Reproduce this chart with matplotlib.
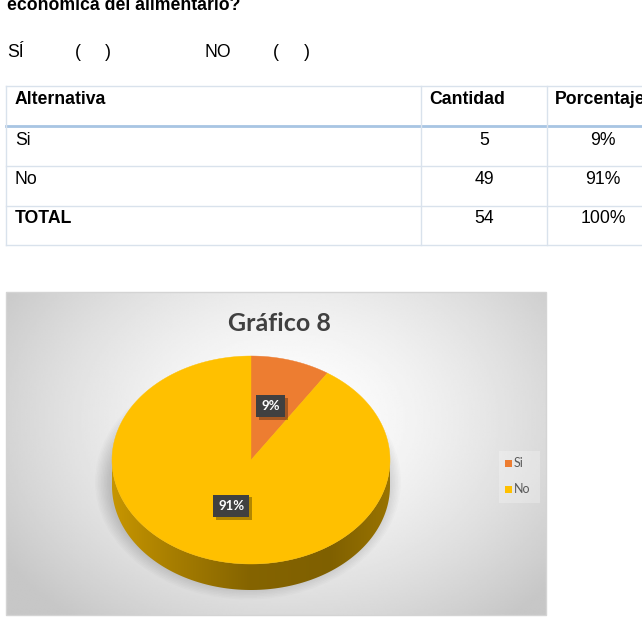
import numpy as np
import matplotlib
matplotlib.use("Agg")
import matplotlib.pyplot as plt
from matplotlib.patches import Polygon, Rectangle, Ellipse
import matplotlib.colors as mcolors
import matplotlib.patheffects as pe

# ---------------- data ----------------
question = "económica del alimentario?"
answer_line = ["SÍ", "(", ")", "NO", "(", ")"]
table_header = ["Alternativa", "Cantidad", "Porcentaje"]
table_rows = ["Si", "No", "TOTAL"]
table_counts = ["5", "49", "54"]
table_pcts = ["9%", "91%", "100%"]

chart_title = "Gráfico 8"
pie_labels = ["Si", "No"]
pie_values = [5, 49]
pie_pct_labels = ["9%", "91%"]
pie_colors = ["#ED7D31", "#FFC000"]

# ---------------- figure ----------------
W, H = 642, 619
fig = plt.figure(figsize=(W / 100, H / 100), dpi=100)
ax = fig.add_axes([0, 0, 1, 1])
ax.set_xlim(0, W)
ax.set_ylim(H, 0)
ax.axis("off")

doc_font = "Liberation Sans"
fs = 12.7

# question text (cut at top)
ax.text(7, 10.5, question, fontsize=fs, fontweight="bold", family=doc_font,
        ha="left", va="baseline", color="black")

ans_x = [7, 75, 105, 205, 273, 304]
for s, x in zip(answer_line, ans_x):
    ax.text(x, 57, s, fontsize=fs, family=doc_font, ha="left", va="baseline")

# ---------------- table ----------------
tbl_left, tbl_right = 6, W + 5
col_x = [421, 547]
row_y = [86, 126, 166, 206, 245]
line_c = "#d9e2ec"
for y in row_y:
    ax.plot([tbl_left, tbl_right], [y, y], color=line_c, lw=1.0)
ax.plot([tbl_left, tbl_right], [row_y[1], row_y[1]], color="#a8c5e3", lw=2.0)
ax.plot([tbl_left, tbl_left], [row_y[0], row_y[-1]], color=line_c, lw=1.0)
for x in col_x:
    ax.plot([x, x], [row_y[0], row_y[-1]], color=line_c, lw=1.0)

ax.text(15, 104, table_header[0], fontsize=fs, fontweight="bold", family=doc_font, va="baseline")
ax.text(429, 104, table_header[1], fontsize=fs, fontweight="bold", family=doc_font, va="baseline")
ax.text(555, 104, table_header[2], fontsize=fs, fontweight="bold", family=doc_font, va="baseline")
base_y = [145, 184, 223]
for i, (r, c, p) in enumerate(zip(table_rows, table_counts, table_pcts)):
    ax.text(15, base_y[i], r, fontsize=fs, family=doc_font, va="baseline",
            fontweight="bold" if r == "TOTAL" else "normal")
    ax.text(484, base_y[i], c, fontsize=fs, family=doc_font, va="baseline", ha="center")
    ax.text(603, base_y[i], p, fontsize=fs, family=doc_font, va="baseline", ha="center")

# ---------------- chart area ----------------
cx0, cy0, cx1, cy1 = 6, 292, 546, 615
gx = np.linspace(cx0, cx1, 300)
gy = np.linspace(cy0, cy1, 200)
GX, GY = np.meshgrid(gx, gy)
d = np.sqrt(((GX - 290) / 330.0) ** 2 + ((GY - 420) / 250.0) ** 2)
val = 1.0 - 0.21 * np.clip(d, 0, 1.2) ** 1.5
val = np.clip(val, 0.78, 1.0)
ax.imshow(val, extent=[cx0, cx1, cy1, cy0], cmap="gray", vmin=0, vmax=1,
          aspect="auto", zorder=1, interpolation="bilinear")
ax.add_patch(Rectangle((cx0, cy0), cx1 - cx0, cy1 - cy0, fill=False,
                       ec="#d4d4d4", lw=1.0, zorder=2))

ax.text(279, 331, chart_title, fontsize=18, fontweight="bold", family="Lato",
        color="#404040", ha="center", va="baseline", zorder=5)

# ---------------- 3D pie ----------------
pcx, pcy, pa, pb, depth = 251, 460, 139, 104, 26


def ell(t):
    t = np.radians(t)
    return pcx + pa * np.sin(t), pcy - pb * np.cos(t)


# soft shadow
for k in range(10):
    ax.add_patch(Ellipse((248, pcy + depth * 0.6 + 6), 2 * (pa + 14 - k * 1.5),
                         2 * (pb + 14 - k * 1.5), color="black", alpha=0.016,
                         lw=0, zorder=3))

total = float(sum(pie_values))
angles = np.cumsum([0] + [v / total * 360.0 for v in pie_values])

# side walls
side_stops = [(112, 0.78), (170, 0.66), (250, 0.52), (330, 0.50), (390, 0.60)]
sx = np.array([s[0] for s in side_stops], float)
sf = np.array([s[1] for s in side_stops], float)
for i, col in enumerate(pie_colors):
    t0, t1 = max(angles[i], 90), min(angles[i + 1], 270)
    if t1 <= t0:
        continue
    ts = np.linspace(t0, t1, 120)
    xs, ys = ell(ts)
    poly = np.vstack([np.column_stack([xs, ys]),
                      np.column_stack([xs[::-1], ys[::-1] + depth])])
    patch = Polygon(poly, closed=True, fc="none", ec="none", zorder=4)
    ax.add_patch(patch)
    base = np.array(mcolors.to_rgb(col))
    xx = np.linspace(pcx - pa, pcx + pa, 300)
    fac = np.interp(xx, sx, sf)
    img = np.clip(base[None, None, :] * fac[None, :, None], 0, 1)
    img = np.repeat(img, 2, axis=0)
    im = ax.imshow(img, extent=[pcx - pa, pcx + pa, pcy + pb + depth + 2, pcy - 10],
                   aspect="auto", zorder=4, interpolation="bilinear")
    im.set_clip_path(patch)

# top face
for i, col in enumerate(pie_colors):
    ts = np.linspace(angles[i], angles[i + 1], 200)
    xs, ys = ell(ts)
    poly = np.vstack([[pcx, pcy], np.column_stack([xs, ys])])
    ax.add_patch(Polygon(poly, closed=True, fc=col, ec=col, lw=0.3, zorder=5))

# data labels
for i, lab in enumerate(pie_pct_labels):
    mid = (angles[i] + angles[i + 1]) / 2
    t = np.radians(mid)
    lx = pcx + 0.5 * pa * np.sin(t)
    ly = pcy - 0.5 * pb * np.cos(t) - 4
    txt = ax.text(lx, ly, lab, fontsize=9.5, fontweight="bold", family="Lato",
                  color="white", ha="center", va="center", zorder=7,
                  bbox=dict(boxstyle="square,pad=0.4", fc="#404040", ec="none"))
    txt.get_bbox_patch().set_path_effects(
        [pe.SimplePatchShadow(offset=(2, -2), shadow_rgbFace="black", alpha=0.3),
         pe.Normal()])

# legend
ax.add_patch(Rectangle((499, 451), 41, 52, fc="white", alpha=0.25, ec="none", zorder=5))
leg_y = [463, 489]
for lab, col, y in zip(pie_labels, pie_colors, leg_y):
    ax.add_patch(Rectangle((504.5, y - 3.5), 7, 7, fc=col, ec="none", zorder=6))
    ax.text(514, y, lab, fontsize=9, family="Lato", color="#595959",
            ha="left", va="center", zorder=6)

fig.savefig("out.png", dpi=100)
